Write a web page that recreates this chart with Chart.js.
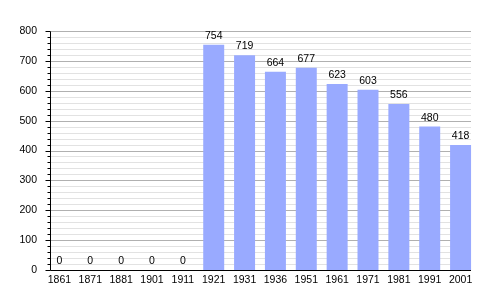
<!DOCTYPE html>
<html>
<head>
<meta charset="utf-8">
<script src="https://cdn.jsdelivr.net/npm/chart.js@4"></script>
<style>
  html, body { margin: 0; padding: 0; background: #fff; }
  #wrap { width: 500px; height: 300px; }
</style>
</head>
<body>
<div id="wrap"><canvas id="popChart" width="500" height="300"></canvas></div>
<script>
const years = ["1861", "1871", "1881", "1901", "1911", "1921", "1931", "1936", "1951", "1961", "1971", "1981", "1991", "2001"];
const population = [0, 0, 0, 0, 0, 754, 719, 664, 677, 623, 603, 556, 480, 418];
const yMax = 800;
const majorStep = 100;
const minorStep = 20;

const barColor = "#99aaff";
const fontFamily = "'Liberation Sans', Arial, sans-serif";
const fontSize = 10.5;

// the axis frame sits a little inside the bar slots, like the original
const frameInsetLeft = 6;
const frameInsetRight = 5;

// gridlines, axis lines and tick marks drawn behind the bars
const frame = {
  id: "frame",
  beforeDatasetsDraw(chart) {
    const ctx = chart.ctx;
    const area = chart.chartArea;
    const y = chart.scales.y;
    const x0 = area.left + frameInsetLeft + 0.5;
    const x1 = area.right - frameInsetRight;
    ctx.save();
    ctx.lineWidth = 1;
    for (let v = minorStep; v <= yMax; v += minorStep) {
      const py = Math.round(y.getPixelForValue(v)) + 0.5;
      ctx.strokeStyle = v % majorStep === 0 ? "#b0b0b0" : "#e2e2e2";
      ctx.beginPath();
      ctx.moveTo(x0, py);
      ctx.lineTo(x1, py);
      ctx.stroke();
    }
    ctx.restore();
  },
  afterDatasetsDraw(chart) {
    const ctx = chart.ctx;
    const area = chart.chartArea;
    const y = chart.scales.y;
    const x0 = area.left + frameInsetLeft + 0.5;
    const x1 = area.right - frameInsetRight;
    const yb = Math.round(y.getPixelForValue(0)) + 0.5;
    const yt = Math.round(y.getPixelForValue(yMax)) + 0.5;
    ctx.save();
    ctx.strokeStyle = "#000";
    ctx.lineWidth = 1;
    ctx.beginPath();
    ctx.moveTo(x0, yt);
    ctx.lineTo(x0, yb);
    ctx.lineTo(x1, yb);
    ctx.stroke();
    for (let v = 0; v <= yMax; v += minorStep) {
      const py = Math.round(y.getPixelForValue(v)) + 0.5;
      const len = v % majorStep === 0 ? 5 : 3;
      ctx.beginPath();
      ctx.moveTo(x0 - len, py);
      ctx.lineTo(x0, py);
      ctx.stroke();
    }

    // value labels above each bar
    const meta = chart.getDatasetMeta(0);
    ctx.fillStyle = "#000";
    ctx.font = fontSize + "px " + fontFamily;
    ctx.textAlign = "center";
    ctx.textBaseline = "alphabetic";
    meta.data.forEach((bar, i) => {
      ctx.fillText(String(population[i]), bar.x, bar.y - 6);
    });
    ctx.restore();
  }
};

new Chart(document.getElementById("popChart"), {
  type: "bar",
  data: {
    labels: years,
    datasets: [{
      data: population,
      backgroundColor: barColor,
      borderWidth: 0,
      categoryPercentage: 0.68,
      barPercentage: 1.0
    }]
  },
  options: {
    responsive: false,
    animation: false,
    layout: { padding: { top: 31, right: 24, bottom: 8, left: 0 } },
    plugins: {
      legend: { display: false },
      tooltip: { enabled: false }
    },
    scales: {
      x: {
        grid: { display: false, drawTicks: false },
        border: { display: false },
        ticks: {
          color: "#000",
          font: { family: fontFamily, size: fontSize },
          padding: 4,
          maxRotation: 0,
          autoSkip: false
        },
        afterFit(scale) { scale.height = 22; }
      },
      y: {
        min: 0,
        max: yMax,
        grid: { display: false, drawTicks: false },
        border: { display: false },
        ticks: {
          stepSize: majorStep,
          color: "#000",
          font: { family: fontFamily, size: fontSize },
          padding: 7
        },
        afterFit(scale) { scale.width = 44; }
      }
    }
  },
  plugins: [frame]
});
</script>
</body>
</html>
